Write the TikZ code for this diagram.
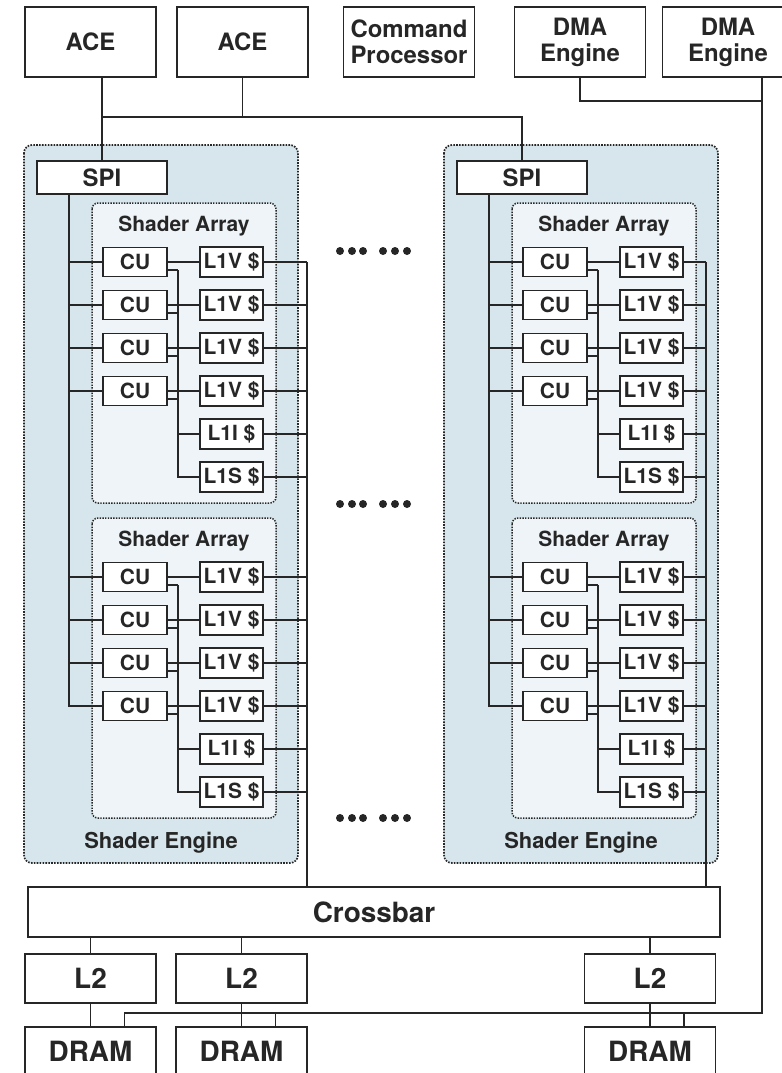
\documentclass[tikz,border=0pt]{standalone}
\usepackage{fontspec}
\setmainfont{TeX Gyre Heros}
\usetikzlibrary{positioning}
\definecolor{ink}{HTML}{262626}
\definecolor{sefill}{HTML}{D6E6EC}
\definecolor{safill}{HTML}{EEF4F7}

\begin{document}
\begin{tikzpicture}[x=1bp,y=-1bp,
    wire/.style={draw=ink,line width=1.7bp},
    box/.style={draw=ink,fill=white,line width=1.9bp,inner sep=0pt,text=ink,font=\bfseries\fontsize{21}{22}\selectfont},
    topbox/.style={box,minimum width=131bp,minimum height=70bp,align=center,font=\bfseries\fontsize{24}{26}\selectfont},
    membox/.style={box,minimum width=131bp,minimum height=49bp,font=\bfseries\fontsize{28}{30}\selectfont},
    spibox/.style={box,minimum width=130bp,minimum height=33bp,font=\bfseries\fontsize{24}{26}\selectfont},
    cubox/.style={box,minimum width=64bp,minimum height=29bp},
    cachebox/.style={box,minimum width=63bp,minimum height=30bp},
    sebox/.style={draw=ink,fill=sefill,line width=1.7bp,dash pattern=on 1.6bp off 1.3bp,rounded corners=8bp},
    sabox/.style={draw=ink,fill=safill,line width=1.5bp,dash pattern=on 1.4bp off 1.3bp,rounded corners=6bp},
    title/.style={text=ink,font=\bfseries\fontsize{21}{22}\selectfont}]
  \useasboundingbox (0,0) rectangle (782,1073);
  \node[topbox] (ace1) at (90.5,42) {ACE};
  \node[topbox] (ace2) at (242.5,42) {ACE};
  \node[topbox] (cp) at (409,42) {Command\\Processor};
  \node[topbox] (dma1) at (580,42) {DMA\\Engine};
  \node[topbox] (dma2) at (728,42) {DMA\\Engine};
  \node[box,minimum width=692bp,minimum height=50bp,font=\bfseries\fontsize{28}{30}\selectfont] (xbar) at (374,912) {Crossbar};
  \foreach \n/\x in {1/90.5,2/241.5,3/650}{
    \node[membox] (ltwo\n) at (\x,978.5) {L2};
    \node[membox] (dram\n) at (\x,1051.5) {DRAM};
    \draw[wire] (ltwo\n.north) -- (ltwo\n.north |- xbar.south);
    \draw[wire] (ltwo\n) -- (dram\n);
  }
  \foreach \sx/\side/\rx in {0/L/307,420/R/706}{
    \draw[sebox] (24+\sx,145) rectangle (298+\sx,863);
    \node[title,font=\bfseries\fontsize{22}{24}\selectfont] at (161+\sx,843) {Shader Engine};
    \node[spibox] (spi\side) at (102+\sx,177.5) {SPI};
    \coordinate (sb\side) at (69+\sx,0);
    \coordinate (cb\side) at (178+\sx,0);
    \coordinate (rv\side) at (\rx,0);
    \foreach \ty/\arr in {0/1,315/2}{
      \draw[sabox] (92+\sx,203+\ty) rectangle (276+\sx,503+\ty);
      \node[title] at (184+\sx,226+\ty) {Shader Array};
      \foreach \row/\lbl in {0/L1V,1/L1V,2/L1V,3/L1V,4/L1I,5/L1S}{
        \node[cachebox] (c\side\arr\row) at (231.5+\sx,262+\ty+43*\row) {\lbl\ \$};
        \draw[wire] (c\side\arr\row.east) -- (c\side\arr\row.east -| rv\side);
      }
      \foreach \row in {0,...,3}{
        \node[cubox] (cu\side\arr\row) at (135+\sx,262+\ty+43*\row) {CU};
        \draw[wire] (cu\side\arr\row.west -| sb\side) -- (cu\side\arr\row) -- (c\side\arr\row);
        \draw[wire] ([yshift=-8bp]cu\side\arr\row.east) -- ([yshift=-8bp]cu\side\arr\row.east -| cb\side);
      }
      \draw[wire] ([yshift=-8bp]cu\side\arr0.east -| cb\side) |- (c\side\arr5);
      \draw[wire] (c\side\arr4.west -| cb\side) -- (c\side\arr4);
    }
    \draw[wire] (spi\side.south -| sb\side) |- (cu\side23);
    \draw[wire] (c\side10.east -| rv\side) -- (xbar.north -| rv\side);
  }
  \foreach \y in {251,504,818}
    \foreach \x in {340,352,363,383,395,407}
      \fill[ink] (\x,\y) circle[radius=4bp];
  \coordinate (acebus) at (0,117);
  \draw[wire] (spiL.north) -- (spiL.north |- ace1.south);
  \draw[wire] (spiL.north |- acebus) -| (spiR.north);
  \draw[wire] (ace2.south) -- (ace2.south |- acebus);
  \coordinate (dmaj) at (762,101);
  \coordinate (dmab) at (762,1013);
  \draw[wire] (dma1.south) |- (dmaj);
  \draw[wire] (dma2.south -| dmaj) -- (dmab) -| ([xshift=34bp]dram1.north);
  \foreach \d in {dram2,dram3}
    \draw[wire] ([xshift=34bp]\d.north) -- ([xshift=34bp]\d.north |- dmab);
\end{tikzpicture}
\end{document}
